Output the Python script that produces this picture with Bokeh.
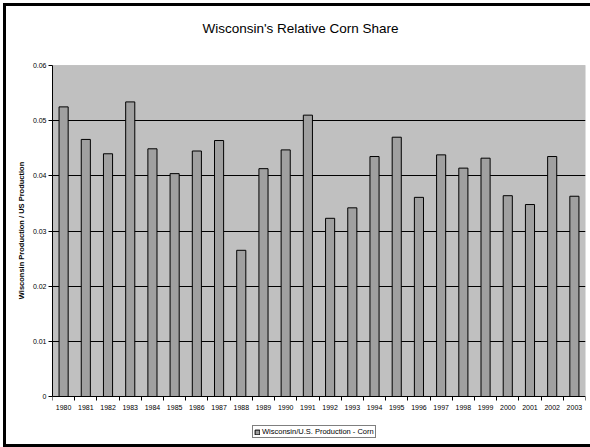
from bokeh.plotting import figure
from bokeh.models import (FixedTicker, Range1d, Legend, LegendItem, ColumnDataSource,
                          BoxAnnotation, Label)
from bokeh.embed import file_html
from bokeh.resources import INLINE

# ---- data ----
years = [1980, 1981, 1982, 1983, 1984, 1985, 1986, 1987, 1988, 1989, 1990, 1991,
         1992, 1993, 1994, 1995, 1996, 1997, 1998, 1999, 2000, 2001, 2002, 2003]
share = [0.0525, 0.0466, 0.0440, 0.0534, 0.0449, 0.0404, 0.0445, 0.0464, 0.0265, 0.0413,
         0.0447, 0.0510, 0.0323, 0.0342, 0.0435, 0.0470, 0.0361, 0.0438, 0.0414, 0.0432,
         0.0364, 0.0348, 0.0435, 0.0363]
y_ticks = [0, 0.01, 0.02, 0.03, 0.04, 0.05, 0.06]
y_tick_labels = ["0", "0.01", "0.02", "0.03", "0.04", "0.05", "0.06"]
title_text = "Wisconsin's Relative Corn Share"
y_label = "Wisconsin Production / US Production"
series_name = "Wisconsin/U.S. Production - Corn"

FONT = "Liberation Sans"

# ---- layout (pixels) ----
W, H = 584, 438
BORDER_L, BORDER_R, BORDER_T = 46, 5, 10
FRAME_W = W - BORDER_L - BORDER_R
FRAME_H = H - BORDER_T
AXIS_TOP_PX = 49        # gap from frame top down to the 0.06 line
AXIS_SPAN_PX = 331      # pixel height of the 0 .. 0.06 span
TITLE_Y_PX = 12         # title centre, below frame top
TITLE_X_PX = 248        # title centre, right of frame left

x_start, x_end = years[0] - 0.5, years[-1] + 0.5
y_min_v, y_max_v = y_ticks[0], y_ticks[-1]
per_px = (y_max_v - y_min_v) / AXIS_SPAN_PX
y_top = y_max_v + AXIS_TOP_PX * per_px
y_bot = y_min_v - (FRAME_H - AXIS_TOP_PX - AXIS_SPAN_PX) * per_px

src = ColumnDataSource(dict(year=years, share=share))

p = figure(width=W, height=H, output_backend="svg", toolbar_location=None,
           x_range=Range1d(x_start, x_end),
           y_range=Range1d(y_bot, y_top),
           min_border_left=BORDER_L, min_border_right=BORDER_R,
           min_border_top=BORDER_T, min_border_bottom=0,
           background_fill_color="white", border_fill_color="white",
           outline_line_color=None,
           styles={"margin": "6px 0px 0px 6px", "outline": "3px solid black",
                   "outline-offset": "0px"})

# title
p.add_layout(Label(x=x_start + TITLE_X_PX * (x_end - x_start) / FRAME_W,
                   y=y_top - TITLE_Y_PX * per_px, text=title_text,
                   text_font=FONT, text_font_size="13.5px", text_color="black",
                   text_align="center", text_baseline="middle"))

# plot area
p.add_layout(BoxAnnotation(bottom=y_min_v, top=y_max_v, fill_color="#c0c0c0", fill_alpha=1,
                           line_color="#808080", line_width=1, level="image"))

# bars
r = p.vbar(x="year", top="share", width=0.41, source=src,
           fill_color="#a0a0a0", line_color="black", line_width=1)

# x axis (drawn at y = 0)
xa = p.xaxis[0]
xa.fixed_location = 0
xa.ticker = FixedTicker(ticks=years, minor_ticks=[y - 0.5 for y in years] + [years[-1] + 0.5])
xa.major_label_overrides = {y: str(y) for y in years}
xa.major_tick_out = 0
xa.major_tick_in = 0
xa.minor_tick_out = 4
xa.minor_tick_in = 0
xa.minor_tick_line_color = "black"
xa.axis_line_color = "black"
xa.major_label_text_font = FONT
xa.major_label_text_font_size = "7px"
xa.major_label_text_color = "black"
xa.major_label_standoff = 4

# y axis
ya = p.yaxis[0]
ya.bounds = (y_min_v, y_max_v)
ya.ticker = FixedTicker(ticks=y_ticks, minor_ticks=[])
ya.major_label_overrides = {t: l for t, l in zip(y_ticks, y_tick_labels)}
ya.major_tick_out = 4
ya.major_tick_in = 0
ya.major_tick_line_color = "black"
ya.axis_line_color = "black"
ya.major_label_text_font = FONT
ya.major_label_text_font_size = "7px"
ya.major_label_text_color = "black"
ya.major_label_standoff = 2
ya.axis_label = y_label
ya.axis_label_text_font = FONT
ya.axis_label_text_font_size = "7.5px"
ya.axis_label_text_font_style = "bold"
ya.axis_label_text_color = "black"
ya.axis_label_standoff = 4

# grid
p.xgrid.visible = False
p.ygrid.ticker = FixedTicker(ticks=y_ticks[1:-1])
p.ygrid.grid_line_color = "black"
p.ygrid.grid_line_width = 1

# legend under the axis labels
legend = Legend(items=[LegendItem(label=series_name, renderers=[r])],
                location=(200, 6), orientation="horizontal",
                label_text_font=FONT, label_text_font_size="7.5px",
                label_text_color="black", label_height=8, label_standoff=2,
                glyph_width=6, glyph_height=6, padding=1, spacing=0, margin=0,
                border_line_color="black", border_line_width=1,
                background_fill_color="white", background_fill_alpha=1)
p.add_layout(legend, "center")

open("out.html", "w").write(file_html(p, INLINE))
